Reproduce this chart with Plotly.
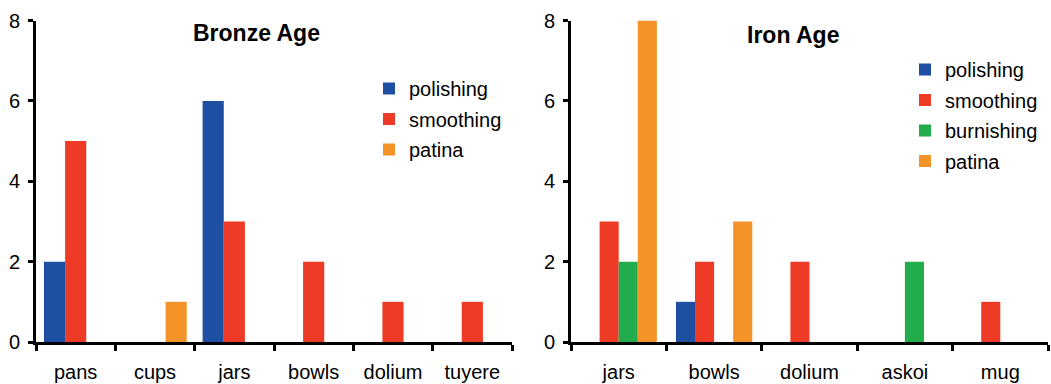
import plotly.graph_objects as go

# Bronze Age finishes per vessel type
bronze_types = ["pans", "cups", "jars", "bowls", "dolium", "tuyere"]
bronze_polishing = [2, 0, 6, 0, 0, 0]
bronze_smoothing = [5, 0, 3, 2, 1, 1]
bronze_patina = [0, 1, 0, 0, 0, 0]

# Iron Age finishes per vessel type
iron_types = ["jars", "bowls", "dolium", "askoi", "mug"]
iron_polishing = [0, 1, 0, 0, 0]
iron_smoothing = [3, 2, 2, 0, 1]
iron_burnishing = [2, 0, 0, 2, 0]
iron_patina = [8, 3, 0, 0, 0]

y_ticks = [0, 2, 4, 6, 8]

BLUE = "#1f4fa0"
RED = "#ee3b25"
GREEN = "#21ad4b"
ORANGE = "#f39328"

W, H = 1051, 384
FONT = "Liberation Sans, Arial, sans-serif"
INK = "#000000"


def px_x(p):
    return p / W


def px_y(p):
    return 1 - p / H


fig = go.Figure()

left = [("polishing", bronze_polishing, BLUE),
        ("smoothing", bronze_smoothing, RED),
        ("patina", bronze_patina, ORANGE)]
for name, vals, col in left:
    fig.add_trace(go.Bar(x=bronze_types, y=vals, name=name, marker_color=col,
                         marker_line_width=0, xaxis="x", yaxis="y",
                         legend="legend", legendgroup="b" + name))

right = [("polishing", iron_polishing, BLUE),
         ("smoothing", iron_smoothing, RED),
         ("burnishing", iron_burnishing, GREEN),
         ("patina", iron_patina, ORANGE)]
for name, vals, col in right:
    fig.add_trace(go.Bar(x=iron_types, y=vals, name=name, marker_color=col,
                         marker_line_width=0, xaxis="x2", yaxis="y2",
                         legend="legend2", legendgroup="i" + name))

ydom = [px_y(342), px_y(20.5)]
axis_common = dict(showline=True, linecolor="black", linewidth=3,
                   ticks="outside", tickcolor="black", tickwidth=3,
                   showgrid=False, zeroline=False, automargin=False,
                   tickfont=dict(family=FONT, size=20, color=INK))

fig.update_layout(
    template="none",
    width=W, height=H,
    margin=dict(l=0, r=0, t=0, b=0, pad=0),
    paper_bgcolor="white", plot_bgcolor="white",
    barmode="group",
    font=dict(family=FONT, color=INK),
    xaxis=dict(domain=[px_x(36), px_x(512)], anchor="y",
               tickson="boundaries", ticklen=6, ticklabelstandoff=10,
               range=[-0.5, 5.5], **axis_common),
    yaxis=dict(domain=ydom, anchor="x", range=[0, 8], tickvals=y_ticks,
               ticklen=5, ticklabelstandoff=4, **axis_common),
    xaxis2=dict(domain=[px_x(571), px_x(1048)], anchor="y2",
                tickson="boundaries", ticklen=6, ticklabelstandoff=10,
                range=[-0.5, 4.5], **axis_common),
    yaxis2=dict(domain=ydom, anchor="x2", range=[0, 8], tickvals=y_ticks,
                ticklen=5, ticklabelstandoff=4, **axis_common),
    legend=dict(x=px_x(369), y=px_y(69), xanchor="left", yanchor="top",
                bgcolor="rgba(0,0,0,0)", tracegroupgap=1.5,
                font=dict(family=FONT, size=20, color=INK)),
    legend2=dict(x=px_x(905), y=px_y(50), xanchor="left", yanchor="top",
                 bgcolor="rgba(0,0,0,0)", tracegroupgap=1.5,
                 font=dict(family=FONT, size=20, color=INK)),
    bargap=0.2,
    annotations=[
        dict(text="<b>Bronze Age</b>", x=px_x(256), y=px_y(33),
             xref="paper", yref="paper", xanchor="center", yanchor="middle",
             showarrow=False, font=dict(family=FONT, size=23, color=INK)),
        dict(text="<b>Iron Age</b>", x=px_x(793), y=px_y(35),
             xref="paper", yref="paper", xanchor="center", yanchor="middle",
             showarrow=False, font=dict(family=FONT, size=23, color=INK)),
    ],
)

fig.write_html("out.html")
